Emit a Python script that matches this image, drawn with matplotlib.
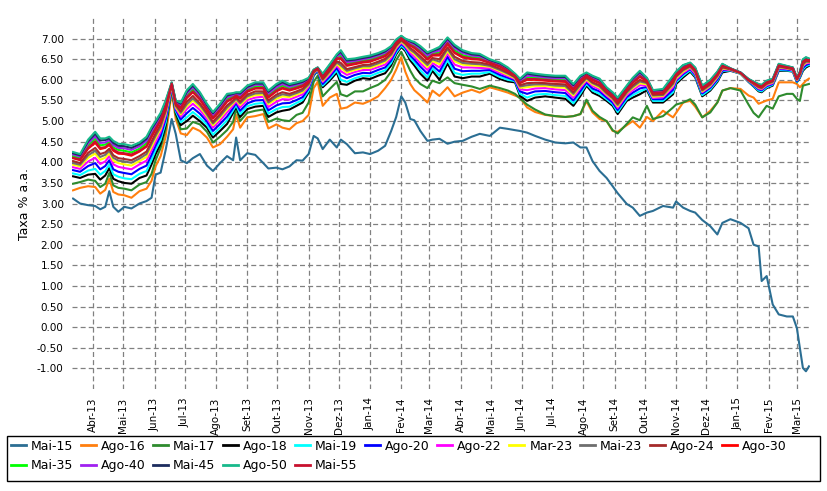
"""curva de juros reais (NTN-B) - taxas por vencimento, mar/2013 a mar/2015
"""

import pandas as pd
import matplotlib
matplotlib.use("Agg")
import matplotlib.pyplot as plt
import matplotlib.dates as mdates
from matplotlib.patches import Rectangle
from matplotlib.ticker import FuncFormatter, FormatStrFormatter

dates = pd.to_datetime([
    "2013-03-12", "2013-03-19", "2013-03-27", "2013-04-03", "2013-04-08", "2013-04-13", "2013-04-17", "2013-04-21", "2013-04-26", "2013-05-02",
    "2013-05-09", "2013-05-17", "2013-05-24", "2013-05-29", "2013-06-02", "2013-06-07", "2013-06-12", "2013-06-18", "2013-06-22", "2013-06-27",
    "2013-07-03", "2013-07-09", "2013-07-16", "2013-07-23", "2013-07-29", "2013-08-05", "2013-08-12", "2013-08-18", "2013-08-21", "2013-08-25",
    "2013-09-01", "2013-09-09", "2013-09-17", "2013-09-22", "2013-09-30", "2013-10-06", "2013-10-13", "2013-10-20", "2013-10-26", "2013-11-01",
    "2013-11-06", "2013-11-10", "2013-11-15", "2013-11-22", "2013-11-29", "2013-12-03", "2013-12-09", "2013-12-17", "2013-12-25", "2014-01-01",
    "2014-01-09", "2014-01-16", "2014-01-22", "2014-01-27", "2014-02-01", "2014-02-05", "2014-02-10", "2014-02-14", "2014-02-20", "2014-02-27",
    "2014-03-04", "2014-03-11", "2014-03-19", "2014-03-26", "2014-04-03", "2014-04-12", "2014-04-20", "2014-04-30", "2014-05-10", "2014-05-18",
    "2014-05-25", "2014-05-30", "2014-06-06", "2014-06-14", "2014-06-24", "2014-07-04", "2014-07-14", "2014-07-22", "2014-07-29", "2014-08-04",
    "2014-08-10", "2014-08-17", "2014-08-24", "2014-08-30", "2014-09-04", "2014-09-13", "2014-09-19", "2014-09-26", "2014-10-03", "2014-10-09",
    "2014-10-19", "2014-10-29", "2014-11-01", "2014-11-08", "2014-11-15", "2014-11-20", "2014-11-27", "2014-12-05", "2014-12-12", "2014-12-17",
    "2014-12-25", "2015-01-04", "2015-01-12", "2015-01-17", "2015-01-22", "2015-01-25", "2015-01-30", "2015-02-05", "2015-02-11", "2015-02-19",
    "2015-02-25", "2015-03-01", "2015-03-04", "2015-03-07", "2015-03-10", "2015-03-13"])

mai15 = [3.12, 3.00, 2.96, 2.94, 2.86, 2.92, 3.30, 2.92, 2.80, 2.92,
         2.88, 3.00, 3.06, 3.14, 3.70, 3.75, 4.30, 5.05, 4.69, 4.05,
         3.98, 4.10, 4.20, 3.92, 3.79, 3.98, 4.15, 4.05, 4.60, 4.05,
         4.22, 4.18, 3.98, 3.85, 3.87, 3.83, 3.90, 4.05, 4.04, 4.20,
         4.64, 4.58, 4.32, 4.55, 4.36, 4.55, 4.44, 4.22, 4.24, 4.20,
         4.28, 4.40, 4.76, 5.10, 5.60, 5.45, 5.05, 5.02, 4.76, 4.52,
         4.55, 4.57, 4.45, 4.50, 4.52, 4.62, 4.69, 4.64, 4.84, 4.81,
         4.78, 4.76, 4.72, 4.64, 4.55, 4.48, 4.46, 4.48, 4.36, 4.36,
         4.03, 3.79, 3.62, 3.42, 3.25, 2.99, 2.90, 2.70, 2.78, 2.82,
         2.94, 2.90, 3.05, 2.90, 2.82, 2.78, 2.60, 2.45, 2.25, 2.53,
         2.62, 2.53, 2.40, 2.00, 1.96, 1.12, 1.24, 0.55, 0.31, 0.26,
         0.26, -0.02, -0.51, -0.99, -1.07, -0.95]

ago16 = [3.32, 3.38, 3.42, 3.40, 3.24, 3.33, 3.60, 3.28, 3.22, 3.20,
         3.14, 3.30, 3.36, 3.55, 3.90, 4.15, 4.62, 5.70, 5.05, 4.70,
         4.66, 4.84, 4.76, 4.60, 4.36, 4.44, 4.62, 4.80, 5.15, 4.84,
         5.09, 5.12, 5.17, 4.82, 4.92, 4.84, 4.80, 4.95, 5.00, 5.15,
         5.80, 5.95, 5.37, 5.57, 5.66, 5.30, 5.33, 5.45, 5.42, 5.49,
         5.60, 5.80, 6.00, 6.25, 6.55, 6.20, 5.90, 5.75, 5.62, 5.45,
         5.74, 5.61, 5.82, 5.60, 5.69, 5.76, 5.69, 5.82, 5.75, 5.69,
         5.62, 5.57, 5.33, 5.22, 5.15, 5.12, 5.10, 5.12, 5.17, 5.48,
         5.21, 5.05, 5.00, 4.76, 4.74, 4.90, 5.00, 4.84, 5.10, 5.00,
         5.25, 5.09, 5.20, 5.45, 5.49, 5.35, 5.09, 5.25, 5.45, 5.74,
         5.80, 5.78, 5.62, 5.57, 5.42, 5.45, 5.50, 5.54, 5.94, 5.94,
         5.94, 5.90, 5.82, 5.90, 5.98, 6.03]

mai17 = [3.48, 3.52, 3.58, 3.55, 3.40, 3.48, 3.74, 3.44, 3.38, 3.36,
         3.32, 3.46, 3.52, 3.72, 4.05, 4.35, 4.80, 5.80, 5.15, 4.80,
         4.82, 4.98, 4.92, 4.74, 4.48, 4.62, 4.78, 4.98, 5.30, 5.00,
         5.20, 5.25, 5.28, 4.98, 5.06, 5.02, 5.00, 5.15, 5.20, 5.45,
         5.95, 6.10, 5.60, 5.78, 5.95, 5.65, 5.60, 5.72, 5.72, 5.80,
         5.88, 6.00, 6.20, 6.48, 6.68, 6.48, 6.22, 6.05, 5.90, 5.80,
         5.98, 5.92, 6.06, 5.92, 5.88, 5.84, 5.78, 5.86, 5.80, 5.74,
         5.66, 5.55, 5.40, 5.28, 5.16, 5.12, 5.10, 5.12, 5.17, 5.52,
         5.25, 5.10, 5.00, 4.78, 4.70, 4.93, 5.09, 5.02, 5.37, 5.05,
         5.12, 5.33, 5.40, 5.45, 5.53, 5.40, 5.09, 5.21, 5.45, 5.74,
         5.80, 5.74, 5.40, 5.20, 5.09, 5.20, 5.37, 5.30, 5.60, 5.66,
         5.66, 5.54, 5.49, 5.86, 5.88, 5.90]

ago18 = [3.66, 3.62, 3.70, 3.72, 3.58, 3.68, 3.86, 3.60, 3.54, 3.50,
         3.48, 3.62, 3.68, 3.95, 4.20, 4.45, 4.90, 5.80, 5.20, 4.90,
         5.00, 5.13, 5.00, 4.84, 4.60, 4.76, 4.93, 5.20, 5.35, 5.10,
         5.29, 5.35, 5.37, 5.10, 5.21, 5.25, 5.28, 5.37, 5.45, 5.70,
         6.10, 6.22, 5.82, 5.98, 6.18, 5.90, 5.88, 5.98, 6.04, 6.02,
         6.10, 6.16, 6.35, 6.62, 6.80, 6.70, 6.47, 6.35, 6.15, 5.98,
         6.22, 6.00, 6.40, 6.08, 6.04, 6.08, 6.08, 6.15, 6.02, 5.96,
         5.94, 5.61, 5.49, 5.57, 5.60, 5.57, 5.54, 5.37, 5.61, 5.86,
         5.69, 5.61, 5.49, 5.37, 5.17, 5.49, 5.57, 5.65, 5.75, 5.45,
         5.45, 5.65, 5.90, 6.06, 6.20, 6.06, 5.60, 5.74, 5.95, 6.18,
         6.22, 6.15, 5.95, 5.84, 5.72, 5.70, 5.80, 5.86, 6.22, 6.22,
         6.20, 5.94, 6.05, 6.22, 6.30, 6.34]

mai19 = [3.73, 3.69, 3.80, 3.84, 3.70, 3.79, 3.95, 3.71, 3.65, 3.61,
         3.59, 3.72, 3.79, 4.06, 4.30, 4.54, 4.97, 5.82, 5.24, 4.97,
         5.09, 5.22, 5.08, 4.91, 4.67, 4.84, 5.02, 5.26, 5.39, 5.17,
         5.36, 5.42, 5.44, 5.18, 5.29, 5.34, 5.35, 5.44, 5.51, 5.74,
         6.12, 6.23, 5.86, 6.03, 6.23, 6.00, 5.95, 6.04, 6.10, 6.09,
         6.17, 6.23, 6.41, 6.66, 6.83, 6.74, 6.53, 6.42, 6.23, 6.06,
         6.28, 6.10, 6.48, 6.17, 6.12, 6.15, 6.15, 6.19, 6.07, 6.00,
         5.97, 5.66, 5.57, 5.64, 5.66, 5.63, 5.61, 5.43, 5.67, 5.90,
         5.74, 5.66, 5.53, 5.41, 5.22, 5.53, 5.63, 5.72, 5.79, 5.49,
         5.49, 5.70, 5.94, 6.10, 6.23, 6.09, 5.63, 5.77, 5.98, 6.21,
         6.23, 6.15, 5.96, 5.85, 5.74, 5.72, 5.82, 5.88, 6.24, 6.23,
         6.21, 5.95, 6.07, 6.25, 6.33, 6.36]

ago20 = [3.81, 3.77, 3.91, 3.98, 3.83, 3.91, 4.05, 3.83, 3.77, 3.74,
         3.71, 3.84, 3.92, 4.18, 4.40, 4.64, 5.05, 5.84, 5.28, 5.04,
         5.19, 5.32, 5.18, 4.99, 4.76, 4.93, 5.11, 5.32, 5.44, 5.25,
         5.43, 5.50, 5.51, 5.26, 5.38, 5.43, 5.44, 5.51, 5.58, 5.79,
         6.14, 6.24, 5.90, 6.08, 6.29, 6.11, 6.04, 6.12, 6.17, 6.16,
         6.24, 6.30, 6.47, 6.71, 6.87, 6.78, 6.59, 6.49, 6.32, 6.15,
         6.35, 6.20, 6.56, 6.27, 6.21, 6.22, 6.22, 6.24, 6.12, 6.05,
         5.99, 5.72, 5.66, 5.72, 5.73, 5.70, 5.68, 5.50, 5.73, 5.94,
         5.79, 5.72, 5.57, 5.45, 5.27, 5.58, 5.69, 5.79, 5.83, 5.53,
         5.53, 5.76, 5.98, 6.14, 6.26, 6.12, 5.67, 5.81, 6.01, 6.23,
         6.24, 6.16, 5.97, 5.87, 5.77, 5.75, 5.85, 5.90, 6.26, 6.25,
         6.23, 5.97, 6.09, 6.29, 6.36, 6.39]

ago22 = [3.88, 3.84, 4.02, 4.11, 3.96, 4.02, 4.15, 3.95, 3.89, 3.86,
         3.83, 3.95, 4.04, 4.29, 4.50, 4.74, 5.13, 5.85, 5.31, 5.11,
         5.29, 5.42, 5.27, 5.06, 4.84, 5.01, 5.21, 5.38, 5.48, 5.33,
         5.51, 5.57, 5.59, 5.34, 5.47, 5.53, 5.52, 5.59, 5.65, 5.83,
         6.16, 6.25, 5.95, 6.13, 6.35, 6.21, 6.12, 6.19, 6.24, 6.24,
         6.31, 6.37, 6.53, 6.76, 6.90, 6.81, 6.65, 6.57, 6.40, 6.24,
         6.41, 6.30, 6.64, 6.37, 6.30, 6.30, 6.29, 6.28, 6.17, 6.09,
         6.02, 5.77, 5.75, 5.79, 5.80, 5.77, 5.75, 5.57, 5.80, 5.98,
         5.85, 5.77, 5.62, 5.50, 5.32, 5.63, 5.75, 5.87, 5.86, 5.56,
         5.58, 5.82, 6.01, 6.17, 6.28, 6.15, 5.70, 5.84, 6.05, 6.26,
         6.24, 6.16, 5.98, 5.89, 5.79, 5.77, 5.87, 5.92, 6.28, 6.27,
         6.24, 5.99, 6.11, 6.33, 6.40, 6.41]

mar23 = [3.94, 3.90, 4.11, 4.21, 4.06, 4.11, 4.22, 4.04, 3.98, 3.95,
         3.92, 4.03, 4.13, 4.38, 4.58, 4.81, 5.19, 5.87, 5.34, 5.16,
         5.36, 5.50, 5.34, 5.12, 4.90, 5.08, 5.28, 5.43, 5.52, 5.39,
         5.56, 5.63, 5.64, 5.41, 5.54, 5.60, 5.58, 5.64, 5.70, 5.87,
         6.17, 6.26, 5.98, 6.17, 6.39, 6.29, 6.18, 6.24, 6.29, 6.29,
         6.36, 6.43, 6.58, 6.79, 6.93, 6.84, 6.70, 6.62, 6.47, 6.31,
         6.46, 6.38, 6.70, 6.45, 6.37, 6.35, 6.34, 6.32, 6.21, 6.12,
         6.04, 5.81, 5.82, 5.85, 5.85, 5.82, 5.81, 5.62, 5.85, 6.01,
         5.89, 5.81, 5.65, 5.53, 5.36, 5.67, 5.80, 5.92, 5.89, 5.59,
         5.61, 5.87, 6.04, 6.20, 6.31, 6.18, 5.72, 5.86, 6.07, 6.28,
         6.25, 6.16, 5.98, 5.90, 5.81, 5.79, 5.89, 5.94, 6.30, 6.28,
         6.25, 6.00, 6.12, 6.35, 6.42, 6.43]

mai23 = [3.98, 3.94, 4.17, 4.28, 4.13, 4.18, 4.28, 4.11, 4.04, 4.02,
         3.99, 4.09, 4.20, 4.45, 4.64, 4.86, 5.23, 5.88, 5.37, 5.20,
         5.41, 5.55, 5.39, 5.16, 4.94, 5.12, 5.33, 5.46, 5.54, 5.43,
         5.60, 5.67, 5.68, 5.45, 5.59, 5.65, 5.62, 5.68, 5.74, 5.89,
         6.18, 6.26, 6.00, 6.20, 6.42, 6.35, 6.22, 6.28, 6.33, 6.33,
         6.40, 6.47, 6.61, 6.82, 6.95, 6.87, 6.73, 6.66, 6.52, 6.36,
         6.50, 6.44, 6.75, 6.50, 6.41, 6.39, 6.38, 6.34, 6.24, 6.15,
         6.06, 5.84, 5.87, 5.89, 5.89, 5.86, 5.85, 5.66, 5.88, 6.04,
         5.92, 5.84, 5.67, 5.55, 5.39, 5.69, 5.83, 5.96, 5.92, 5.62,
         5.63, 5.90, 6.07, 6.23, 6.32, 6.19, 5.74, 5.88, 6.09, 6.30,
         6.25, 6.17, 5.99, 5.91, 5.82, 5.80, 5.90, 5.95, 6.31, 6.29,
         6.26, 6.01, 6.13, 6.37, 6.44, 6.44]

ago24 = [4.03, 3.98, 4.23, 4.35, 4.20, 4.24, 4.33, 4.17, 4.10, 4.08,
         4.05, 4.15, 4.26, 4.51, 4.70, 4.92, 5.27, 5.89, 5.39, 5.24,
         5.47, 5.61, 5.43, 5.20, 4.98, 5.17, 5.38, 5.50, 5.57, 5.47,
         5.64, 5.72, 5.72, 5.50, 5.64, 5.70, 5.66, 5.72, 5.78, 5.92,
         6.19, 6.27, 6.02, 6.23, 6.45, 6.41, 6.26, 6.31, 6.36, 6.37,
         6.44, 6.51, 6.64, 6.84, 6.97, 6.89, 6.77, 6.70, 6.57, 6.41,
         6.53, 6.50, 6.79, 6.56, 6.46, 6.43, 6.42, 6.37, 6.27, 6.17,
         6.07, 5.87, 5.92, 5.93, 5.92, 5.90, 5.89, 5.70, 5.91, 6.06,
         5.94, 5.87, 5.69, 5.57, 5.42, 5.72, 5.87, 6.00, 5.94, 5.64,
         5.65, 5.93, 6.09, 6.25, 6.34, 6.21, 5.76, 5.90, 6.11, 6.31,
         6.26, 6.17, 5.99, 5.91, 5.83, 5.81, 5.91, 5.97, 6.33, 6.29,
         6.26, 6.01, 6.14, 6.39, 6.46, 6.45]

ago30 = [4.10, 4.05, 4.33, 4.47, 4.32, 4.35, 4.42, 4.28, 4.21, 4.20,
         4.16, 4.26, 4.38, 4.62, 4.79, 5.01, 5.34, 5.90, 5.42, 5.31,
         5.56, 5.70, 5.52, 5.27, 5.06, 5.25, 5.47, 5.56, 5.61, 5.54,
         5.71, 5.79, 5.79, 5.57, 5.72, 5.79, 5.74, 5.79, 5.84, 5.96,
         6.21, 6.28, 6.06, 6.28, 6.51, 6.51, 6.34, 6.38, 6.42, 6.44,
         6.51, 6.57, 6.70, 6.89, 7.00, 6.92, 6.83, 6.77, 6.65, 6.49,
         6.59, 6.59, 6.87, 6.65, 6.54, 6.50, 6.49, 6.41, 6.32, 6.21,
         6.10, 5.92, 6.00, 6.00, 5.98, 5.96, 5.95, 5.76, 5.97, 6.10,
         5.99, 5.92, 5.73, 5.61, 5.47, 5.76, 5.93, 6.07, 5.97, 5.67,
         5.69, 5.98, 6.12, 6.28, 6.36, 6.24, 5.79, 5.93, 6.14, 6.34,
         6.26, 6.17, 6.00, 5.93, 5.85, 5.83, 5.93, 5.99, 6.35, 6.31,
         6.27, 6.03, 6.16, 6.43, 6.49, 6.47]

mai35 = [4.15, 4.10, 4.41, 4.57, 4.41, 4.43, 4.49, 4.36, 4.30, 4.28,
         4.24, 4.33, 4.46, 4.70, 4.86, 5.07, 5.40, 5.92, 5.45, 5.36,
         5.62, 5.77, 5.58, 5.32, 5.11, 5.31, 5.54, 5.60, 5.64, 5.60,
         5.76, 5.84, 5.84, 5.63, 5.78, 5.86, 5.79, 5.84, 5.89, 5.99,
         6.22, 6.29, 6.09, 6.31, 6.55, 6.58, 6.39, 6.43, 6.47, 6.49,
         6.56, 6.62, 6.74, 6.92, 7.02, 6.95, 6.87, 6.82, 6.71, 6.55,
         6.64, 6.66, 6.92, 6.72, 6.60, 6.55, 6.54, 6.44, 6.35, 6.24,
         6.11, 5.96, 6.06, 6.05, 6.03, 6.01, 6.00, 5.81, 6.02, 6.13,
         6.03, 5.96, 5.76, 5.64, 5.50, 5.80, 5.97, 6.12, 6.00, 5.70,
         5.72, 6.02, 6.15, 6.31, 6.38, 6.26, 5.82, 5.96, 6.16, 6.35,
         6.27, 6.17, 6.01, 5.94, 5.87, 5.85, 5.95, 6.00, 6.36, 6.32,
         6.28, 6.04, 6.17, 6.45, 6.51, 6.49]

ago40 = [4.19, 4.14, 4.46, 4.63, 4.47, 4.48, 4.54, 4.42, 4.35, 4.34,
         4.30, 4.39, 4.52, 4.75, 4.91, 5.12, 5.43, 5.92, 5.47, 5.39,
         5.67, 5.82, 5.62, 5.36, 5.15, 5.35, 5.58, 5.63, 5.66, 5.63,
         5.80, 5.88, 5.88, 5.67, 5.82, 5.90, 5.83, 5.88, 5.92, 6.01,
         6.23, 6.29, 6.11, 6.34, 6.57, 6.63, 6.43, 6.46, 6.50, 6.53,
         6.59, 6.66, 6.77, 6.94, 7.04, 6.97, 6.90, 6.86, 6.75, 6.59,
         6.67, 6.71, 6.96, 6.77, 6.65, 6.59, 6.57, 6.46, 6.38, 6.26,
         6.13, 5.98, 6.10, 6.09, 6.06, 6.04, 6.04, 5.84, 6.05, 6.14,
         6.05, 5.98, 5.78, 5.66, 5.53, 5.82, 6.00, 6.16, 6.02, 5.72,
         5.74, 6.05, 6.17, 6.33, 6.40, 6.27, 5.83, 5.97, 6.17, 6.37,
         6.27, 6.18, 6.01, 5.95, 5.88, 5.86, 5.96, 6.01, 6.37, 6.33,
         6.29, 6.05, 6.18, 6.47, 6.52, 6.50]

mai45 = [4.22, 4.17, 4.51, 4.69, 4.53, 4.54, 4.58, 4.47, 4.40, 4.39,
         4.35, 4.44, 4.57, 4.81, 4.96, 5.16, 5.47, 5.93, 5.49, 5.42,
         5.71, 5.86, 5.67, 5.39, 5.19, 5.39, 5.62, 5.66, 5.68, 5.67,
         5.83, 5.91, 5.91, 5.71, 5.87, 5.94, 5.87, 5.91, 5.95, 6.03,
         6.24, 6.30, 6.13, 6.36, 6.60, 6.68, 6.47, 6.49, 6.53, 6.56,
         6.62, 6.69, 6.80, 6.96, 7.06, 6.99, 6.93, 6.89, 6.79, 6.64,
         6.70, 6.76, 7.00, 6.81, 6.69, 6.62, 6.60, 6.48, 6.40, 6.28,
         6.14, 6.01, 6.15, 6.12, 6.09, 6.07, 6.07, 5.87, 6.08, 6.16,
         6.08, 6.01, 5.80, 5.68, 5.55, 5.84, 6.03, 6.19, 6.04, 5.74,
         5.76, 6.08, 6.19, 6.35, 6.41, 6.29, 5.85, 5.99, 6.19, 6.38,
         6.28, 6.18, 6.02, 5.95, 5.89, 5.87, 5.97, 6.02, 6.38, 6.33,
         6.30, 6.05, 6.19, 6.49, 6.54, 6.51]

ago50 = [4.25, 4.20, 4.55, 4.74, 4.58, 4.58, 4.62, 4.52, 4.45, 4.44,
         4.40, 4.48, 4.62, 4.85, 5.00, 5.20, 5.50, 5.94, 5.50, 5.45,
         5.75, 5.90, 5.70, 5.42, 5.22, 5.42, 5.66, 5.68, 5.70, 5.70,
         5.86, 5.94, 5.94, 5.74, 5.90, 5.98, 5.90, 5.94, 5.98, 6.05,
         6.25, 6.30, 6.15, 6.38, 6.62, 6.72, 6.50, 6.52, 6.56, 6.59,
         6.65, 6.72, 6.82, 6.98, 7.07, 7.00, 6.95, 6.92, 6.82, 6.67,
         6.72, 6.80, 7.03, 6.85, 6.72, 6.65, 6.63, 6.50, 6.42, 6.30,
         6.15, 6.03, 6.18, 6.15, 6.12, 6.10, 6.10, 5.90, 6.10, 6.18,
         6.10, 6.03, 5.82, 5.70, 5.57, 5.86, 6.05, 6.22, 6.05, 5.75,
         5.78, 6.10, 6.20, 6.36, 6.42, 6.30, 5.86, 6.00, 6.20, 6.39,
         6.28, 6.18, 6.02, 5.96, 5.90, 5.88, 5.98, 6.03, 6.39, 6.34,
         6.30, 6.06, 6.20, 6.50, 6.55, 6.52]

mai55 = [4.11, 4.07, 4.35, 4.51, 4.35, 4.37, 4.45, 4.31, 4.24, 4.22,
         4.19, 4.28, 4.40, 4.64, 4.82, 5.03, 5.36, 5.91, 5.43, 5.32,
         5.58, 5.72, 5.54, 5.29, 5.08, 5.27, 5.49, 5.57, 5.62, 5.56,
         5.73, 5.80, 5.81, 5.59, 5.74, 5.81, 5.76, 5.81, 5.86, 5.97,
         6.22, 6.28, 6.07, 6.29, 6.52, 6.53, 6.36, 6.40, 6.44, 6.46,
         6.52, 6.59, 6.71, 6.90, 7.01, 6.93, 6.84, 6.79, 6.67, 6.51,
         6.61, 6.62, 6.89, 6.67, 6.56, 6.52, 6.50, 6.42, 6.33, 6.22,
         6.10, 5.93, 6.02, 6.02, 6.00, 5.98, 5.97, 5.78, 5.99, 6.11,
         6.01, 5.93, 5.74, 5.62, 5.48, 5.77, 5.94, 6.09, 5.98, 5.68,
         5.70, 6.00, 6.13, 6.29, 6.37, 6.24, 5.80, 5.94, 6.14, 6.34,
         6.27, 6.17, 6.00, 5.93, 5.86, 5.84, 5.94, 5.99, 6.35, 6.31,
         6.28, 6.03, 6.17, 6.44, 6.49, 6.48]

# vencimentos na ordem da legenda
labels = ['Mai-15', 'Ago-16', 'Mai-17', 'Ago-18', 'Mai-19', 'Ago-20', 'Ago-22', 'Mar-23',
          'Mai-23', 'Ago-24', 'Ago-30', 'Mai-35', 'Ago-40', 'Mai-45', 'Ago-50', 'Mai-55']
series = [mai15, ago16, mai17, ago18, mai19, ago20, ago22, mar23,
          mai23, ago24, ago30, mai35, ago40, mai45, ago50, mai55]
colors = ['#2b6e93', '#ff7f0e', '#2e8b2e', '#000000', '#00ffff', '#0000ff', '#ff00ff', '#ffff00',
          '#6e6e6e', '#a52a2a', '#ff0000', '#00ff00', '#a020f0', '#1c2c5e', '#17b98b', '#c8102e']

meses = ['Jan', 'Fev', 'Mar', 'Abr', 'Mai', 'Jun', 'Jul', 'Ago', 'Set', 'Out', 'Nov', 'Dez']


def fmt_mes(x, pos=None):
    d = mdates.num2date(x)
    return "%s-%02d" % (meses[d.month - 1], d.year % 100)


fig = plt.figure(figsize=(8.27, 4.91), dpi=100)
ax = fig.add_axes([0.0871, 0.2077, 0.8923, 0.7556])

for lab, ys, c in zip(labels, series, colors):
    ax.plot(dates, ys, color=c, lw=1.5, label=lab)

ax.set_xlim(pd.Timestamp("2013-03-11"), pd.Timestamp("2015-03-14"))
ax.set_ylim(-1.5, 7.5)
ax.set_yticks([v / 2.0 for v in range(-2, 15)])
ax.yaxis.set_major_formatter(FormatStrFormatter('%.2f'))
ax.xaxis.set_major_locator(mdates.MonthLocator())
ax.xaxis.set_major_formatter(FuncFormatter(fmt_mes))
plt.setp(ax.get_xticklabels(), rotation=90)
ax.tick_params(length=0, labelsize=7.5, pad=6)

for s in ax.spines.values():
    s.set_visible(False)
ax.grid(True, linestyle=(0, (4, 2.5)), color='#808080', lw=0.9)
ax.set_ylabel("Taxa % a.a.", fontsize=9)

# legenda em linhas (11 na primeira, 5 na segunda): matplotlib preenche por coluna
handles, labs = ax.get_legend_handles_labels()
order = [0, 11, 1, 12, 2, 13, 3, 14, 4, 15, 5, 6, 7, 8, 9, 10]
leg = fig.legend([handles[i] for i in order], [labs[i] for i in order],
                 loc='upper left', bbox_to_anchor=(0.0069, 0.1145),
                 bbox_transform=fig.transFigure, ncol=11, frameon=False,
                 fontsize=9, handlelength=1.2, handletextpad=0.4, columnspacing=0.6,
                 labelspacing=0.5, borderaxespad=0.0)
for h in leg.get_lines():
    h.set_linewidth(2.0)
fig.patches.append(Rectangle((7 / 827, 1 - 481 / 491), 813 / 827, 45 / 491,
                             transform=fig.transFigure, fill=False,
                             edgecolor='black', lw=1.0))

plt.savefig('out.png', dpi=100)
